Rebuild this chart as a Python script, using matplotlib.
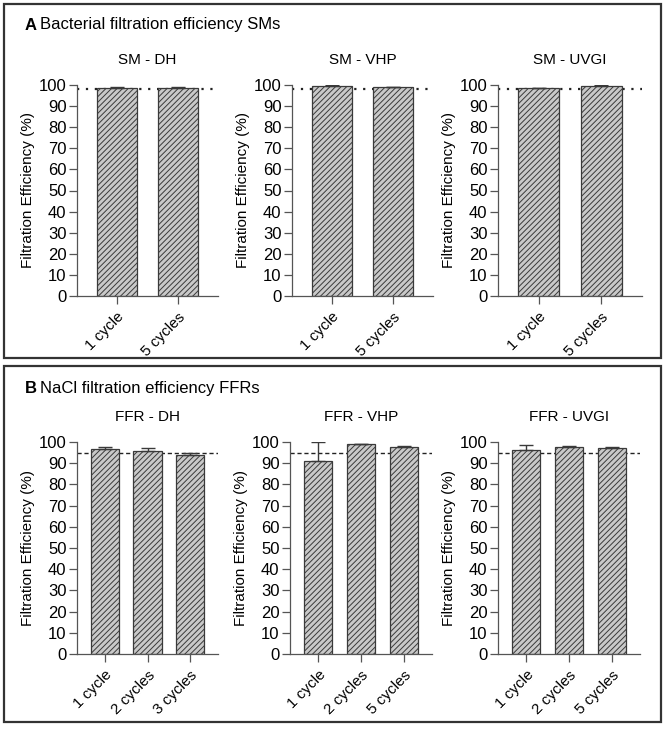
import matplotlib
matplotlib.use("Agg")
import matplotlib.pyplot as plt
from matplotlib.patches import Rectangle

plt.rcParams['font.family'] = ['Liberation Sans', 'DejaVu Sans']
plt.rcParams['hatch.linewidth'] = 0.7
plt.rcParams['hatch.color'] = '#6e6e6e'

# ---------------- data ----------------
sm_titles = ['SM - DH', 'SM - VHP', 'SM - UVGI']
sm_labels = ['1 cycle', '5 cycles']
sm_dh = [98.7, 98.8]
sm_dh_err = [0.2, 0.2]
sm_vhp = [99.7, 98.9]
sm_vhp_err = [0.2, 0.2]
sm_uvgi = [98.4, 99.7]
sm_uvgi_err = [0.1, 0.1]
sm_threshold = 98

ffr_titles = ['FFR - DH', 'FFR - VHP', 'FFR - UVGI']
ffr_dh_labels = ['1 cycle', '2 cycles', '3 cycles']
ffr_other_labels = ['1 cycle', '2 cycles', '5 cycles']
ffr_dh = [96.6, 95.9, 94.0]
ffr_dh_err = [1.0, 1.3, 0.7]
ffr_vhp = [91.0, 98.9, 97.8]
ffr_vhp_err = [9.1, 0.2, 0.2]
ffr_uvgi = [96.3, 97.8, 97.0]
ffr_uvgi_err = [2.3, 0.2, 0.7]
ffr_threshold = 95

yticks = list(range(0, 101, 10))

# ---------------- figure ----------------
W, H = 666, 731
fig = plt.figure(figsize=(W / 100, H / 100), dpi=100)


def px_axes(left, top, right, bottom):
    return fig.add_axes([left / W, 1 - bottom / H, (right - left) / W, (bottom - top) / H])


def draw(ax, title, labels, vals, errs, thr, ls, lw):
    n = len(vals)
    x = list(range(n))
    ax.bar(x, vals, width=0.66, color='#c9c9c9', edgecolor='#3a3a3a',
           linewidth=0.9, hatch='//////', zorder=2)
    ax.errorbar(x, vals, yerr=[[0] * n, errs], fmt='none', ecolor='#3a3a3a',
                elinewidth=1.0, capsize=5, capthick=1.0, zorder=3)
    ax.axhline(thr, color='#222222', linestyle=ls, linewidth=lw, zorder=1)
    ax.set_xlim(-0.66, n - 1 + 0.66)
    ax.set_ylim(0, 100)
    ax.set_yticks(yticks)
    ax.set_xticks(x)
    ax.set_xticklabels(labels, rotation=45, ha='right', va='top',
                       rotation_mode='anchor', fontsize=11)
    ax.tick_params(axis='y', labelsize=12, length=6, width=0.9, color='#555555', pad=1.5)
    ax.tick_params(axis='x', length=6, width=0.9, color='#555555', pad=4)
    for s in ['top', 'right']:
        ax.spines[s].set_visible(False)
    for s in ['left', 'bottom']:
        ax.spines[s].set_color('#555555')
        ax.spines[s].set_linewidth(0.9)
    ax.set_title(title, fontsize=11, pad=15)
    ax.set_ylabel('Filtration Efficiency (%)', fontsize=11)
    bb = ax.get_position()
    ax.yaxis.set_label_coords(-(42 / W) / bb.width, 0.5)


# Panel A
a_pos = [(77, 218), (292, 433), (498, 642)]
a_data = [(sm_dh, sm_dh_err), (sm_vhp, sm_vhp_err), (sm_uvgi, sm_uvgi_err)]
for (l, r), t, (v, e) in zip(a_pos, sm_titles, a_data):
    ax = px_axes(l, 85, r, 296)
    draw(ax, t, sm_labels, v, e, sm_threshold, (0, (1, 3)), 1.6)

# Panel B
b_pos = [(77, 218), (290, 432), (498, 640)]
b_data = [(ffr_dh_labels, ffr_dh, ffr_dh_err), (ffr_other_labels, ffr_vhp, ffr_vhp_err),
          (ffr_other_labels, ffr_uvgi, ffr_uvgi_err)]
for (l, r), t, (lab, v, e) in zip(b_pos, ffr_titles, b_data):
    ax = px_axes(l, 442, r, 654)
    draw(ax, t, lab, v, e, ffr_threshold, (0, (3, 2)), 1.0)

# Panel boxes
for (top, bottom) in [(4, 358), (366, 722)]:
    fig.patches.append(Rectangle((4 / W, 1 - bottom / H), (657) / W, (bottom - top) / H,
                                 transform=fig.transFigure, fill=False,
                                 edgecolor='#333333', linewidth=1.6))

# Panel headings
fig.text(25 / W, 1 - 25 / H, 'A', fontsize=12, fontweight='bold', va='center', ha='left')
fig.text(40 / W, 1 - 25 / H, 'Bacterial filtration efficiency SMs', fontsize=12, va='center', ha='left')
fig.text(25 / W, 1 - 388 / H, 'B', fontsize=12, fontweight='bold', va='center', ha='left')
fig.text(40 / W, 1 - 388 / H, 'NaCl filtration efficiency FFRs', fontsize=12, va='center', ha='left')

fig.savefig('out.png', dpi=100, facecolor='white')
